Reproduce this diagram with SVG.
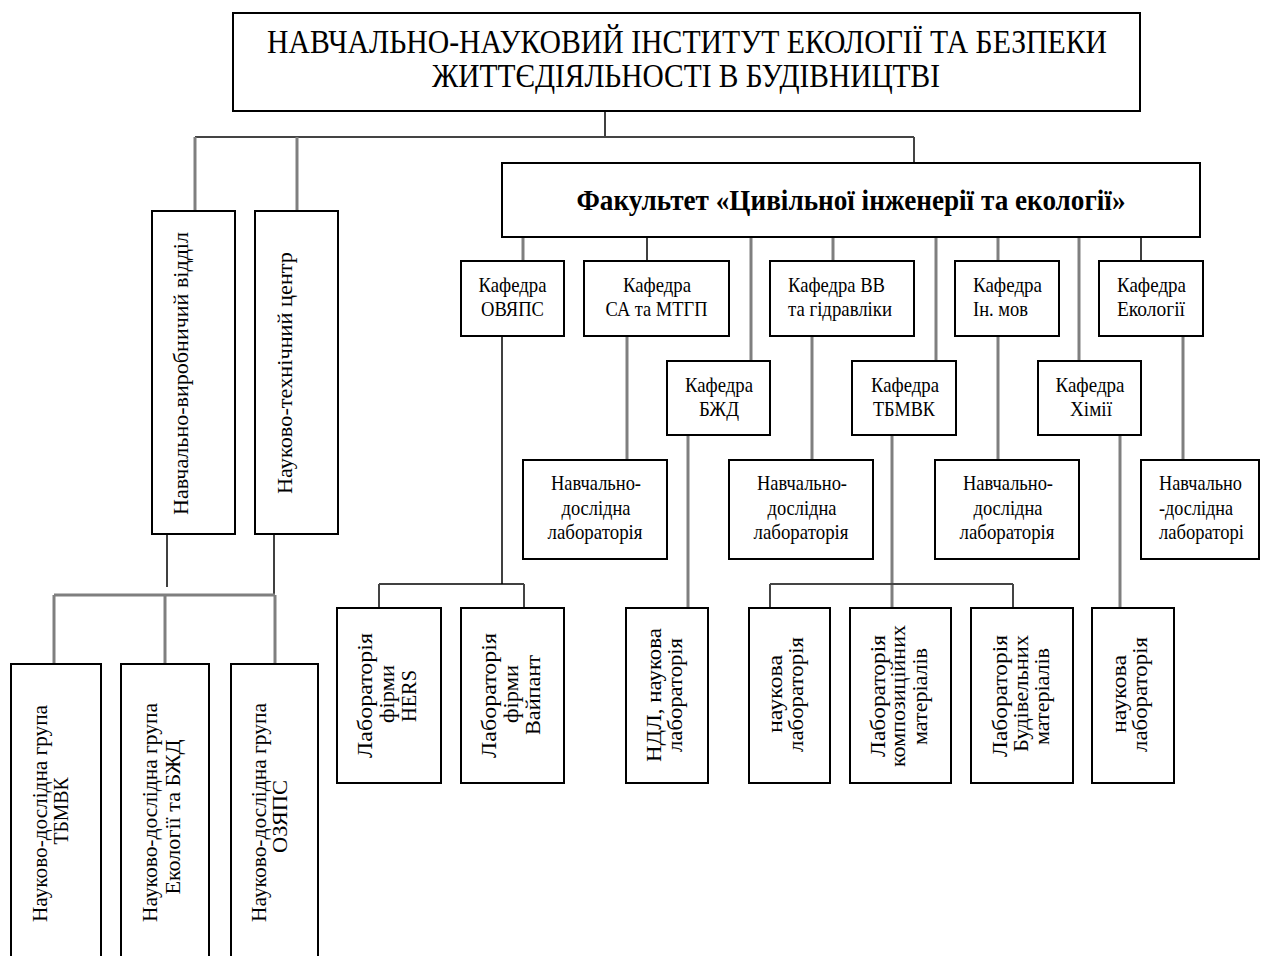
<svg xmlns="http://www.w3.org/2000/svg" width="1263" height="956" viewBox="0 0 1263 956">
<style>
.box{fill:#fff;stroke:#000;stroke-width:2}
.g{stroke:#7f7f7f;stroke-width:3;fill:none}
.d{stroke:#444;stroke-width:2;fill:none}
.k{stroke:#000;stroke-width:1.5;fill:none}
text{font-family:"Liberation Serif","Times New Roman",serif;font-size:22px;fill:#000}
.m{text-anchor:middle}
.ttl{font-size:33px}
.fac{font-size:29px;font-weight:bold}
</style>
<rect width="1263" height="956" fill="#fff"/>
<g id="connectors">
<line class="k" x1="605" y1="111" x2="605" y2="137"/>
<line class="d" x1="195" y1="137" x2="914" y2="137"/>
<line class="g" x1="195" y1="137" x2="195" y2="211"/>
<line class="g" x1="297" y1="137" x2="297" y2="211"/>
<line class="d" x1="914" y1="137" x2="914" y2="163"/>
<line class="g" x1="523" y1="237" x2="523" y2="261"/>
<line class="k" x1="647" y1="237" x2="647" y2="261"/>
<line class="g" x1="751" y1="237" x2="751" y2="361"/>
<line class="g" x1="833" y1="237" x2="833" y2="261"/>
<line class="g" x1="936" y1="237" x2="936" y2="361"/>
<line class="g" x1="998" y1="237" x2="998" y2="261"/>
<line class="g" x1="1079" y1="237" x2="1079" y2="361"/>
<line class="k" x1="1141" y1="237" x2="1141" y2="261"/>
<line class="k" x1="502" y1="336" x2="502" y2="584"/>
<line class="g" x1="627" y1="336" x2="627" y2="460"/>
<line class="g" x1="688" y1="435" x2="688" y2="608"/>
<line class="g" x1="812" y1="336" x2="812" y2="460"/>
<line class="g" x1="892" y1="435" x2="892" y2="608"/>
<line class="g" x1="998" y1="336" x2="998" y2="460"/>
<line class="g" x1="1120" y1="435" x2="1120" y2="608"/>
<line class="g" x1="1183" y1="336" x2="1183" y2="460"/>
<line class="k" x1="379" y1="584" x2="524" y2="584"/>
<line class="d" x1="379" y1="584" x2="379" y2="608"/>
<line class="d" x1="524" y1="584" x2="524" y2="608"/>
<line class="d" x1="770" y1="584" x2="1013" y2="584"/>
<line class="d" x1="770" y1="584" x2="770" y2="608"/>
<line class="d" x1="1013" y1="584" x2="1013" y2="608"/>
<line class="k" x1="167" y1="534" x2="167" y2="587"/>
<line class="k" x1="274" y1="534" x2="274" y2="595"/>
<line class="g" x1="54" y1="595" x2="275" y2="595"/>
<line class="g" x1="54" y1="595" x2="54" y2="664"/>
<line class="g" x1="165" y1="595" x2="165" y2="664"/>
<line class="g" x1="275" y1="595" x2="275" y2="664"/>
</g>
<g id="institute">
<rect class="box" x="233" y="13" width="907" height="98"/>
<text class="ttl m" x="687" y="53" textLength="840" lengthAdjust="spacingAndGlyphs">НАВЧАЛЬНО-НАУКОВИЙ ІНСТИТУТ ЕКОЛОГІЇ ТА БЕЗПЕКИ</text>
<text class="ttl m" x="686" y="87" textLength="508" lengthAdjust="spacingAndGlyphs">ЖИТТЄДІЯЛЬНОСТІ В БУДІВНИЦТВІ</text>
</g>
<g id="faculty">
<rect class="box" x="502" y="163" width="698" height="74"/>
<text class="fac m" x="851" y="210" textLength="549" lengthAdjust="spacingAndGlyphs">Факультет «Цивільної інженерії та екології»</text>
</g>
<g id="nvv">
<rect class="box" x="152" y="211" width="83" height="323"/>
<text class="m" transform="translate(188,373.5) rotate(-90)" textLength="283" lengthAdjust="spacingAndGlyphs">Навчально-виробничий відділ</text>
</g>
<g id="ntc">
<rect class="box" x="255" y="211" width="83" height="323"/>
<text class="m" transform="translate(292,373) rotate(-90)" textLength="242" lengthAdjust="spacingAndGlyphs">Науково-технічний центр</text>
</g>
<g id="ndg1">
<rect class="box" x="11" y="664" width="90" height="300"/>
<text class="m" transform="translate(47,813.5) rotate(-90)" textLength="217" lengthAdjust="spacingAndGlyphs">Науково-дослідна група</text>
<text class="m" transform="translate(68,811) rotate(-90)" textLength="67" lengthAdjust="spacingAndGlyphs">ТБМВК</text>
</g>
<g id="ndg2">
<rect class="box" x="121" y="664" width="88" height="300"/>
<text class="m" transform="translate(157,812.5) rotate(-90)" textLength="219" lengthAdjust="spacingAndGlyphs">Науково-дослідна група</text>
<text class="m" transform="translate(180,817) rotate(-90)" textLength="155" lengthAdjust="spacingAndGlyphs">Екології та БЖД</text>
</g>
<g id="ndg3">
<rect class="box" x="231" y="664" width="87" height="300"/>
<text class="m" transform="translate(266,812.5) rotate(-90)" textLength="219" lengthAdjust="spacingAndGlyphs">Науково-дослідна група</text>
<text class="m" transform="translate(287,816.5) rotate(-90)" textLength="73" lengthAdjust="spacingAndGlyphs">ОЗЯПС</text>
</g>
<g id="k-ovyaps">
<rect class="box" x="461" y="261" width="103" height="75"/>
<text class="m" x="512.5" y="292" textLength="68" lengthAdjust="spacingAndGlyphs">Кафедра</text>
<text class="m" x="512.5" y="316" textLength="63" lengthAdjust="spacingAndGlyphs">ОВЯПС</text>
</g>
<g id="k-sa">
<rect class="box" x="584" y="261" width="145" height="75"/>
<text class="m" x="657" y="292" textLength="68" lengthAdjust="spacingAndGlyphs">Кафедра</text>
<text class="m" x="656.5" y="316" textLength="102" lengthAdjust="spacingAndGlyphs">СА та МТГП</text>
</g>
<g id="k-vv">
<rect class="box" x="770" y="261" width="144" height="75"/>
<text x="788" y="292" textLength="97" lengthAdjust="spacingAndGlyphs">Кафедра ВВ</text>
<text x="788" y="316" textLength="104" lengthAdjust="spacingAndGlyphs">та гідравліки</text>
</g>
<g id="k-in">
<rect class="box" x="955" y="261" width="104" height="75"/>
<text x="973" y="292" textLength="69" lengthAdjust="spacingAndGlyphs">Кафедра</text>
<text x="973" y="316" textLength="55" lengthAdjust="spacingAndGlyphs">Ін. мов</text>
</g>
<g id="k-eko">
<rect class="box" x="1099" y="261" width="104" height="75"/>
<text x="1117" y="292" textLength="69" lengthAdjust="spacingAndGlyphs">Кафедра</text>
<text x="1117" y="316" textLength="68" lengthAdjust="spacingAndGlyphs">Екології</text>
</g>
<g id="k-bzhd">
<rect class="box" x="667" y="361" width="103" height="74"/>
<text class="m" x="719" y="392" textLength="68" lengthAdjust="spacingAndGlyphs">Кафедра</text>
<text class="m" x="719" y="416" textLength="40" lengthAdjust="spacingAndGlyphs">БЖД</text>
</g>
<g id="k-tbmvk">
<rect class="box" x="852" y="361" width="104" height="74"/>
<text class="m" x="905" y="392" textLength="68" lengthAdjust="spacingAndGlyphs">Кафедра</text>
<text class="m" x="904" y="416" textLength="62" lengthAdjust="spacingAndGlyphs">ТБМВК</text>
</g>
<g id="k-khim">
<rect class="box" x="1038" y="361" width="103" height="74"/>
<text class="m" x="1090" y="392" textLength="69" lengthAdjust="spacingAndGlyphs">Кафедра</text>
<text class="m" x="1091" y="416" textLength="42" lengthAdjust="spacingAndGlyphs">Хімії</text>
</g>
<g id="lab1">
<rect class="box" x="523" y="460" width="144" height="99"/>
<text class="m" x="596" y="490" textLength="90" lengthAdjust="spacingAndGlyphs">Навчально-</text>
<text class="m" x="596" y="515" textLength="69" lengthAdjust="spacingAndGlyphs">дослідна</text>
<text class="m" x="595" y="539" textLength="95" lengthAdjust="spacingAndGlyphs">лабораторія</text>
</g>
<g id="lab2">
<rect class="box" x="729" y="460" width="144" height="99"/>
<text class="m" x="802" y="490" textLength="90" lengthAdjust="spacingAndGlyphs">Навчально-</text>
<text class="m" x="802" y="515" textLength="69" lengthAdjust="spacingAndGlyphs">дослідна</text>
<text class="m" x="801" y="539" textLength="95" lengthAdjust="spacingAndGlyphs">лабораторія</text>
</g>
<g id="lab3">
<rect class="box" x="935" y="460" width="144" height="99"/>
<text class="m" x="1008" y="490" textLength="90" lengthAdjust="spacingAndGlyphs">Навчально-</text>
<text class="m" x="1008" y="515" textLength="69" lengthAdjust="spacingAndGlyphs">дослідна</text>
<text class="m" x="1007" y="539" textLength="95" lengthAdjust="spacingAndGlyphs">лабораторія</text>
</g>
<g id="lab4">
<rect class="box" x="1141" y="460" width="118" height="99"/>
<text x="1159" y="490" textLength="83" lengthAdjust="spacingAndGlyphs">Навчально</text>
<text x="1159" y="515" textLength="74" lengthAdjust="spacingAndGlyphs">-дослідна</text>
<text x="1159" y="539" textLength="85" lengthAdjust="spacingAndGlyphs">лабораторі</text>
</g>
<g id="lab-hers">
<rect class="box" x="337" y="608" width="104" height="175"/>
<text class="m" transform="translate(372,695.5) rotate(-90)" textLength="125" lengthAdjust="spacingAndGlyphs">Лабораторія</text>
<text class="m" transform="translate(394,694) rotate(-90)" textLength="58" lengthAdjust="spacingAndGlyphs">фірми</text>
<text class="m" transform="translate(416,696) rotate(-90)" textLength="52" lengthAdjust="spacingAndGlyphs">HERS</text>
</g>
<g id="lab-vaipant">
<rect class="box" x="461" y="608" width="103" height="175"/>
<text class="m" transform="translate(496,695.5) rotate(-90)" textLength="125" lengthAdjust="spacingAndGlyphs">Лабораторія</text>
<text class="m" transform="translate(518,694) rotate(-90)" textLength="58" lengthAdjust="spacingAndGlyphs">фірми</text>
<text class="m" transform="translate(540,695) rotate(-90)" textLength="80" lengthAdjust="spacingAndGlyphs">Вайпант</text>
</g>
<g id="lab-ndl">
<rect class="box" x="626" y="608" width="82" height="175"/>
<text class="m" transform="translate(661,695) rotate(-90)" textLength="134" lengthAdjust="spacingAndGlyphs">НДЛ, наукова</text>
<text class="m" transform="translate(682,695) rotate(-90)" textLength="114" lengthAdjust="spacingAndGlyphs">лабораторія</text>
</g>
<g id="lab-nauk1">
<rect class="box" x="749" y="608" width="81" height="175"/>
<text class="m" transform="translate(782,694) rotate(-90)" textLength="78" lengthAdjust="spacingAndGlyphs">наукова</text>
<text class="m" transform="translate(803,694.5) rotate(-90)" textLength="115" lengthAdjust="spacingAndGlyphs">лабораторія</text>
</g>
<g id="lab-komp">
<rect class="box" x="850" y="608" width="101" height="175"/>
<text class="m" transform="translate(885,696) rotate(-90)" textLength="122" lengthAdjust="spacingAndGlyphs">Лабораторія</text>
<text class="m" transform="translate(905,696) rotate(-90)" textLength="142" lengthAdjust="spacingAndGlyphs">композиційних</text>
<text class="m" transform="translate(927,696.5) rotate(-90)" textLength="97" lengthAdjust="spacingAndGlyphs">матеріалів</text>
</g>
<g id="lab-bud">
<rect class="box" x="971" y="608" width="102" height="175"/>
<text class="m" transform="translate(1007,696) rotate(-90)" textLength="122" lengthAdjust="spacingAndGlyphs">Лабораторія</text>
<text class="m" transform="translate(1028,693.5) rotate(-90)" textLength="117" lengthAdjust="spacingAndGlyphs">Будівельних</text>
<text class="m" transform="translate(1049,696.5) rotate(-90)" textLength="97" lengthAdjust="spacingAndGlyphs">матеріалів</text>
</g>
<g id="lab-nauk2">
<rect class="box" x="1092" y="608" width="82" height="175"/>
<text class="m" transform="translate(1126,694) rotate(-90)" textLength="78" lengthAdjust="spacingAndGlyphs">наукова</text>
<text class="m" transform="translate(1147,694.5) rotate(-90)" textLength="115" lengthAdjust="spacingAndGlyphs">лабораторія</text>
</g>
</svg>
